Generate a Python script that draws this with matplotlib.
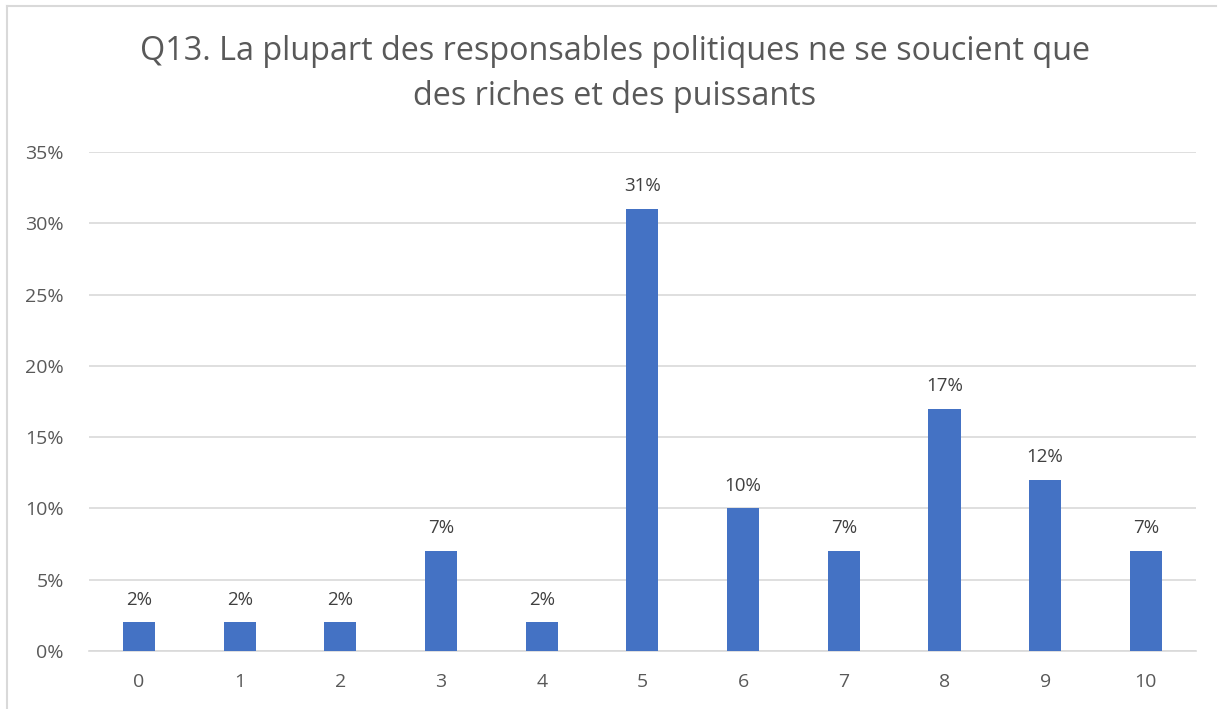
import matplotlib
matplotlib.use('Agg')
import matplotlib.pyplot as plt
from matplotlib.lines import Line2D

# données
categories = ['0', '1', '2', '3', '4', '5', '6', '7', '8', '9', '10']
values = [2, 2, 2, 7, 2, 31, 10, 7, 17, 12, 7]
y_ticks = [0, 5, 10, 15, 20, 25, 30, 35]
title = "Q13. La plupart des responsables politiques ne se soucient que\ndes riches et des puissants"

plt.rcParams['font.family'] = ['Open Sans', 'DejaVu Sans']

fig = plt.figure(figsize=(12.23, 7.09), dpi=100)
ax = fig.add_axes([0.0725, 0.0818, 0.9055, 0.7038])

x = list(range(len(categories)))
ax.bar(x, values, width=0.32, color='#4472C4', zorder=3)
for xi, v in zip(x, values):
    ax.annotate(f'{v}%', (xi, v), xytext=(0, 10), textcoords='offset points',
                ha='center', va='bottom', fontsize=13.5, color='#404040')

ax.set_xlim(-0.5, len(categories) - 0.5)
ax.set_ylim(0, 35)
ax.set_yticks(y_ticks)
ax.set_yticklabels([f'{t}%' for t in y_ticks])
ax.set_xticks(x)
ax.set_xticklabels(categories)
ax.tick_params(axis='both', length=0, labelsize=14, labelcolor='#595959')
ax.tick_params(axis='y', pad=18)
ax.tick_params(axis='x', pad=16)
ax.yaxis.grid(True, color='#D9D9D9', linewidth=1.2, zorder=0)
for s in ['top', 'right', 'left']:
    ax.spines[s].set_visible(False)
ax.spines['bottom'].set_color('#D9D9D9')
ax.spines['bottom'].set_linewidth(1.2)

fig.text(0.5 * (140 + 1090) / 1223, 1 - 74 / 709, title, ha='center', va='center',
         fontsize=23.3, color='#595959', linespacing=1.45)

# cadre du graphique
fig.add_artist(Line2D([7 / 1223, 7 / 1223], [0, 1 - 6 / 709], color='#D9D9D9', linewidth=1.5))
fig.add_artist(Line2D([7 / 1223, 1216 / 1223], [1 - 6 / 709, 1 - 6 / 709], color='#D9D9D9', linewidth=1.5))

fig.savefig('out.png', dpi=100)
